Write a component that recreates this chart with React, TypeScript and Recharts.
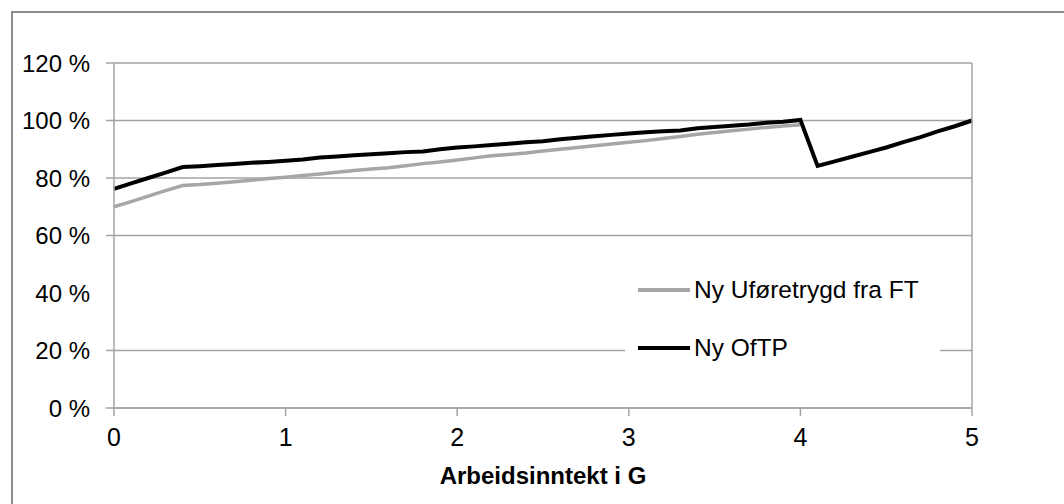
import React from 'react';
import { LineChart, Line, XAxis, YAxis, CartesianGrid, Legend } from 'recharts';

// Arbeidsinntekt i G (x) and compensation level in % for the two schemes
const income = [
  0, 0.1, 0.2, 0.3, 0.4, 0.5, 0.6, 0.7, 0.8, 0.9,
  1, 1.1, 1.2, 1.3, 1.4, 1.5, 1.6, 1.7, 1.8, 1.9,
  2, 2.1, 2.2, 2.3, 2.4, 2.5, 2.6, 2.7, 2.8, 2.9,
  3, 3.1, 3.2, 3.3, 3.4, 3.5, 3.6, 3.7, 3.8, 3.9,
  4, 4.1, 4.2, 4.3, 4.4, 4.5, 4.6, 4.7, 4.8, 4.9, 5,
];

const uforetrygd = [
  70.0, 71.8, 73.7, 75.6, 77.4, 77.7, 78.2, 78.7, 79.2, 79.8,
  80.3, 80.9, 81.4, 82.0, 82.6, 83.1, 83.6, 84.3, 85.0, 85.6,
  86.3, 87.0, 87.7, 88.2, 88.7, 89.4, 90.0, 90.6, 91.2, 91.8,
  92.4, 93.0, 93.7, 94.4, 95.2, 95.8, 96.4, 97.0, 97.6, 98.1,
  98.5,
];

const oftp = [
  76.2, 78.1, 80.0, 81.9, 83.8, 84.1, 84.5, 84.9, 85.3, 85.6,
  86.0, 86.4, 87.1, 87.5, 87.9, 88.3, 88.6, 89.0, 89.2, 90.0,
  90.6, 91.0, 91.5, 91.9, 92.4, 92.8, 93.5, 94.0, 94.5, 95.0,
  95.5, 95.9, 96.3, 96.5, 97.3, 97.7, 98.2, 98.6, 99.2, 99.6,
  100.2, 84.2, 85.8, 87.4, 89.0, 90.6, 92.5, 94.2, 96.2, 98.0, 100.0,
];

const xTicks = [0, 1, 2, 3, 4, 5];
const yTicks = [0, 20, 40, 60, 80, 100, 120];
const gridValues = [0, 20, 60, 80, 100, 120];

const seriesNames = ['Ny Uføretrygd fra FT', 'Ny OfTP'];
const seriesColors = ['#a6a6a6', '#000000'];

const data = income.map((x, i) => ({
  x,
  ufore: i < uforetrygd.length ? uforetrygd[i] : null,
  oftp: oftp[i],
}));

const FONT = '"Liberation Sans", Arial, sans-serif';
const GRID = '#a3a3a3';

const YTick = (side: 'left' | 'right') => (props: any) => {
  const { x, y, payload } = props;
  const v = payload.value;
  const lineX1 = side === 'left' ? x + 16 : x - 15;
  const lineX2 = side === 'left' ? x + 24 : x - 23;
  return (
    <g>
      {v !== 40 && <line x1={lineX1} x2={lineX2} y1={y} y2={y} stroke={GRID} strokeWidth={1.5} />}
      <text
        x={x}
        y={y}
        textAnchor={side === 'left' ? 'end' : 'start'}
        dominantBaseline="central"
        fontSize={24}
        fontFamily={FONT}
        fill="#000"
      >
        {`${v} %`}
      </text>
    </g>
  );
};

const LegendBox = () => (
  <div style={{ background: '#fff', width: 315, height: 100, position: 'relative', fontFamily: FONT, fontSize: 24.5 }}>
    {seriesNames.map((name, i) => (
      <div key={name} style={{ position: 'absolute', left: 13, top: i === 0 ? 13 : 71, height: 30, display: 'flex', alignItems: 'center' }}>
        <div style={{ width: 52, height: i === 0 ? 3.5 : 4, background: seriesColors[i] }} />
        <span style={{ marginLeft: 4, color: '#000', whiteSpace: 'nowrap' }}>{name}</span>
      </div>
    ))}
  </div>
);

export default function App() {
  return (
    <div style={{ position: 'absolute', left: 0, top: 0, width: 1064, height: 504, overflow: 'hidden', background: '#fff' }}>
      <div style={{ position: 'absolute', left: 11, top: 11, width: 1100, height: 600, border: '2px solid #8c8c8c' }} />
      <div style={{ position: 'absolute', left: 0, top: 0 }}>
        <LineChart width={1064} height={504} data={data} margin={{ top: 63, right: 0, bottom: 0, left: 0 }}>
          <CartesianGrid vertical={false} horizontalValues={gridValues} stroke={GRID} strokeWidth={1.5} yAxisId="left" />
          <XAxis
            dataKey="x"
            type="number"
            domain={[0, 5]}
            ticks={xTicks}
            height={96}
            tickSize={8}
            tickMargin={12}
            stroke={GRID}
            strokeWidth={1.5}
            tick={{ fill: '#000', fontSize: 25, fontFamily: FONT }}
            label={{ value: 'Arbeidsinntekt i G', position: 'insideBottom', offset: 20, fill: '#000', fontSize: 24, fontWeight: 700, fontFamily: FONT }}
          />
          <YAxis
            yAxisId="left"
            domain={[0, 120]}
            ticks={yTicks}
            width={114}
            tickSize={8}
            tickMargin={16}
            tickLine={false}
            stroke={GRID}
            strokeWidth={1.5}
            tick={YTick('left')}
          />
          <YAxis
            yAxisId="right"
            orientation="right"
            domain={[0, 120]}
            ticks={yTicks}
            width={92}
            tickSize={8}
            tickMargin={15}
            tickLine={false}
            stroke={GRID}
            strokeWidth={1.5}
            tick={YTick('right')}
          />
          <Legend
            layout="horizontal"
            verticalAlign="middle"
            align="center"
            content={() => <LegendBox />}
            wrapperStyle={{ left: 625, top: 262, width: 315, height: 100 }}
          />
          <Line
            yAxisId="left"
            type="linear"
            dataKey="ufore"
            name={seriesNames[0]}
            stroke={seriesColors[0]}
            strokeWidth={3.5}
            dot={false}
            isAnimationActive={false}
          />
          <Line
            yAxisId="left"
            type="linear"
            dataKey="oftp"
            name={seriesNames[1]}
            stroke={seriesColors[1]}
            strokeWidth={4}
            dot={false}
            isAnimationActive={false}
          />
        </LineChart>
      </div>
    </div>
  );
}
